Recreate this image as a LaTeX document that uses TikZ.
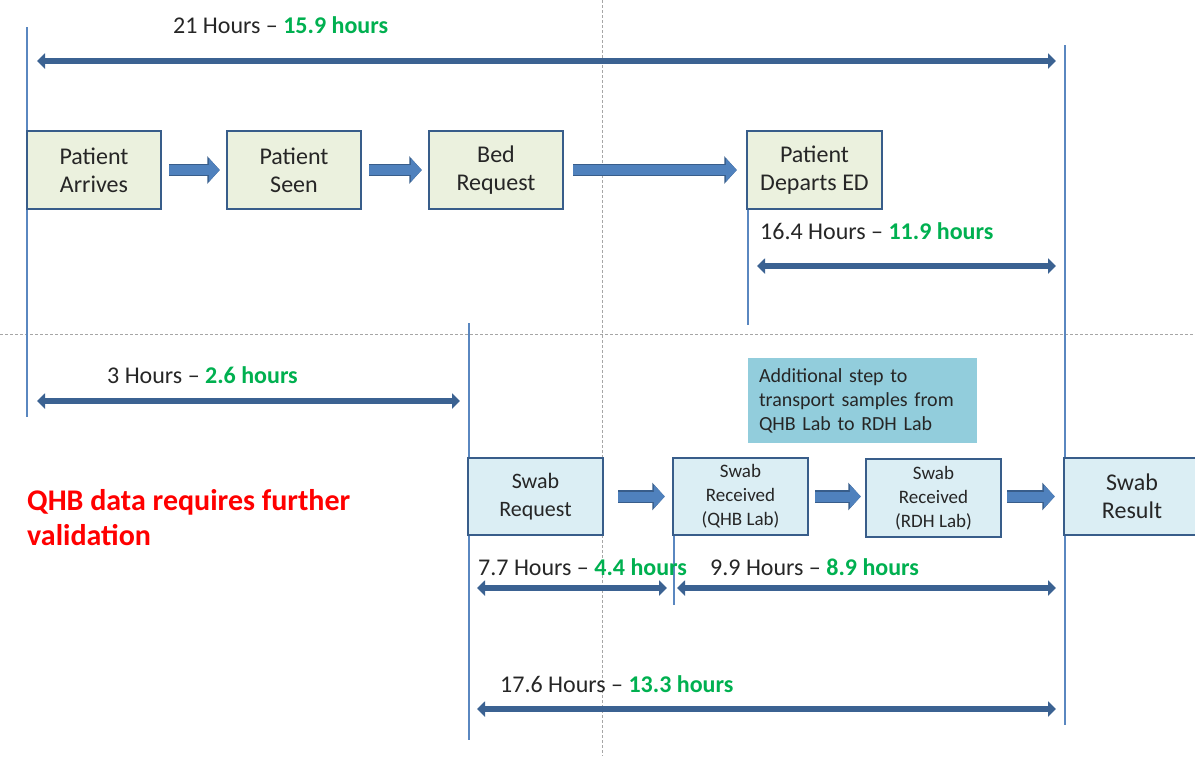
\documentclass[tikz,border=0pt]{standalone}
\usepackage{fontspec}
\setmainfont{Carlito}
\usetikzlibrary{arrows.meta}

\definecolor{boxline}{HTML}{385D8A}
\definecolor{arrowblue}{HTML}{4F81BD}
\definecolor{guideblue}{HTML}{5A87C0}
\definecolor{edfill}{HTML}{EBF1DE}
\definecolor{swabfill}{HTML}{DBEEF4}
\definecolor{notefill}{HTML}{92CDDC}
\definecolor{hoursgreen}{HTML}{00B050}
\definecolor{textgray}{HTML}{262626}

\newcommand{\newhrs}[1]{\textcolor{hoursgreen}{\bfseries #1}}

\tikzset{
	stepbox/.style={draw=boxline, line width=2.5pt, minimum width=134pt, minimum height=78pt,
		align=center, text=textgray, inner sep=2pt, font=\fontsize{24}{28}\selectfont},
	edbox/.style={stepbox, fill=edfill},
	swabbox/.style={stepbox, fill=swabfill},
	smallbox/.style={swabbox, font=\fontsize{19}{24}\selectfont},
	flowarrow/.style={arrowblue, line width=10pt, -{Triangle[length=11pt,width=23pt]},
		preaction={draw=boxline, line width=12.5pt, -{Triangle[length=12.5pt,width=27pt]}},
		shorten <=7pt, shorten >=6pt},
	spanarrow/.style={boxline!85!arrowblue, line width=6pt,
		{Triangle[length=8pt,width=15pt]}-{Triangle[length=8pt,width=15pt]}},
	guide/.style={guideblue, line width=1.2pt},
	divider/.style={gray!70, line width=0.8pt, dash pattern=on 3pt off 2pt},
	hours/.style={anchor=base west, text=textgray, inner sep=0pt, font=\fontsize{24}{28}\selectfont}
}

\begin{document}
\begin{tikzpicture}[x=1pt, y=-1pt]
	\useasboundingbox (0,0) rectangle (1195,756);

	% dashed quarters
	\draw[divider] (602,0) -- (602,756);
	\draw[divider] (0,334) -- (1195,334);

	% time marks
	\draw[guide] (27,27) -- (27,417);
	\draw[guide] (1065,45) -- (1065,725);
	\draw[guide] (748,209) -- (748,325);
	\draw[guide] (469,323) -- (469,740);
	\draw[guide] (674,535) -- (674,605);

	% ED pathway
	\node[edbox] (arrives) at (94,170) {Patient\\Arrives};
	\node[edbox] (seen) at (294,170) {Patient\\Seen};
	\node[edbox] (bedreq) at (496,170) {Bed\\Request};
	\node[edbox, minimum width=135pt] (departs) at (814.5,170) {Patient\\Departs ED};

	\draw[flowarrow] (arrives) -- (seen);
	\draw[flowarrow] (seen) -- (bedreq);
	\draw[flowarrow, shorten <=9pt, shorten >=9pt] (bedreq) -- (departs);

	% swab pathway
	\node[swabbox, minimum width=135pt, minimum height=77pt, font=\fontsize{22}{28}\selectfont]
		(swabreq) at (535.5,496.5) {Swab\\Request};
	\node[smallbox, minimum width=135pt, minimum height=77pt] (qhblab) at (740.5,496.5) {Swab\\Received\\(QHB Lab)};
	\node[smallbox, minimum width=135pt] (rdhlab) at (933.5,498) {Swab\\Received\\(RDH Lab)};
	\node[swabbox, minimum width=136pt, minimum height=77pt] (result) at (1132,496.5) {Swab\\Result};

	\draw[flowarrow, shorten <=14pt, shorten >=7pt] (swabreq) -- (qhblab);
	\draw[flowarrow, shorten <=6pt, shorten >=4pt] (qhblab.east) -- (qhblab.east -| rdhlab.west);
	\draw[flowarrow, shorten <=5pt, shorten >=8pt] (rdhlab.east |- result.west) -- (result.west);

	\node[fill=notefill, text=textgray, align=left, text width=207pt, inner xsep=11pt,
		minimum height=85pt, font=\fontsize{20}{24}\selectfont] (extra) at (862.5,400.5)
		{Additional step to\\transport samples from\\QHB Lab to RDH Lab};

	\node[anchor=west, text=red, align=left, inner sep=0pt, font=\bfseries\fontsize{30}{35}\selectfont]
		(caveat) at (27,518) {QHB data requires further\\validation};

	% durations
	\coordinate (tA) at (37,61);     \coordinate (tB) at (1056,61);
	\coordinate (dA) at (757,266);   \coordinate (dB) at (1056,266);
	\coordinate (sA) at (37,401);    \coordinate (sB) at (460,401);
	\coordinate (qA) at (477,588);   \coordinate (qB) at (667,588);
	\coordinate (rA) at (677,588);   \coordinate (rB) at (1056,588);
	\coordinate (wA) at (477,709);   \coordinate (wB) at (1056,709);

	\draw[spanarrow] (tA) -- (tB);
	\draw[spanarrow] (dA) -- (dB);
	\draw[spanarrow] (sA) -- (sB);
	\draw[spanarrow] (qA) -- (qB);
	\draw[spanarrow] (rA) -- (rB);
	\draw[spanarrow] (wA) -- (wB);

	\node[hours] (lbltotal) at (173,33) {21 Hours -- \newhrs{15.9 hours}};
	\node[hours] (lbldepart) at (760,239) {16.4 Hours -- \newhrs{11.9 hours}};
	\node[hours] (lblbed) at (107,383) {3 Hours -- \newhrs{2.6 hours}};
	\node[hours] (lblqhb) at (478,575) {7.7 Hours -- \newhrs{4.4 hours}};
	\node[hours] (lblrdh) at (710,575) {9.9 Hours -- \newhrs{8.9 hours}};
	\node[hours] (lblswab) at (500,692) {17.6 Hours -- \newhrs{13.3 hours}};
\end{tikzpicture}
\end{document}
